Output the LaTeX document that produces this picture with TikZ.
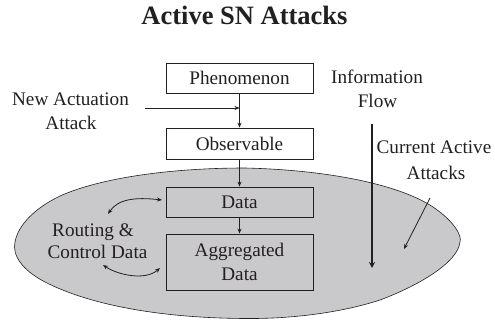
\documentclass[tikz,border=0pt]{standalone}
\usepackage{fontspec}
\setmainfont{Liberation Serif}
\usetikzlibrary{arrows.meta}
\definecolor{ink}{HTML}{231F20}
\definecolor{blob}{HTML}{C9C9CB}
\begin{document}
\begin{tikzpicture}[x=1pt,y=-1pt, font=\fontsize{19.2}{24}\selectfont, text=ink,
  box/.style={draw=ink, line width=0.8pt, minimum width=147pt, inner sep=0pt, align=center},
  lbl/.style={inner sep=0pt, anchor=base},
  tip/.tip={Stealth[length=5pt,width=4pt]},
  arr/.style={draw=ink, line width=0.8pt, -tip},
  darr/.style={draw=ink, line width=0.8pt, tip-tip},
]
\useasboundingbox (0,0) rectangle (495,321);
% cloud
\filldraw[fill=blob, draw=ink, line width=0.6pt]
  (245,168) .. controls (330,170) and (400,185) .. (433,207)
  .. controls (455,222) and (462,236) .. (460,242)
  .. controls (458,262) and (420,285) .. (380,300)
  .. controls (340,313) and (290,319) .. (245,318.5)
  .. controls (160,318) and (90,305) .. (45,282)
  .. controls (22,270) and (12,255) .. (15,242)
  .. controls (18,225) and (35,208) .. (60,196)
  .. controls (100,178) and (170,168) .. (245,168) -- cycle;
% title
\node[lbl, font=\fontsize{26.5}{30}\selectfont\bfseries] (title) at (244.5,25) {Active SN Attacks};
% boxes
\node[box, fill=white, minimum height=30pt] (phen) at (239.5,78) {Phenomenon};
\node[box, fill=white, minimum height=31pt] (obs) at (239.5,143.5) {Observable};
\node[box, minimum height=30pt] (data) at (239.5,202) {Data};
\node[box, minimum height=56pt] (agg) at (239.5,262) {Aggregated\\Data};
% labels
\node[lbl] (na1) at (70.5,105) {New Actuation};
\node[lbl] (na2) at (71,129) {Attack};
\node[lbl] (if1) at (377,83) {Information};
\node[lbl] (if2) at (377.5,107) {Flow};
\node[lbl] (ca1) at (434,153) {Current Active};
\node[lbl] (ca2) at (436,179) {Attacks};
\node[lbl] (rc1) at (93,236) {Routing \&};
\node[lbl] (rc2) at (97.5,258) {Control Data};
% flow arrows
\draw[arr] (phen.south) -- (obs.north);
\draw[arr] (obs.south) -- (data.north);
\draw[arr] (data.south) -- (agg.north);
\coordinate (nas) at (145,108);
\draw[arr] (nas) -- (nas -| phen.south);
% information flow
\coordinate (ift) at (372,124);
\coordinate (ifb) at (372,268);
\draw[draw=ink, line width=2.4pt, -{Stealth[length=6pt,width=6pt]}] (ift) -- (ifb);
% current attacks
\coordinate (cat) at (430,198);
\coordinate (cab) at (404,249);
\draw[arr] (cat) -- (cab);
% routing arrows
\coordinate (r1a) at (108,214);
\coordinate (r1b) at (162,200);
\draw[darr] (r1a) .. controls (118,199) and (135,197) .. (r1b);
\coordinate (r2a) at (103,265);
\coordinate (r2b) at (160,268);
\draw[darr] (r2a) .. controls (118,275) and (145,281) .. (r2b);
\end{tikzpicture}
\end{document}
